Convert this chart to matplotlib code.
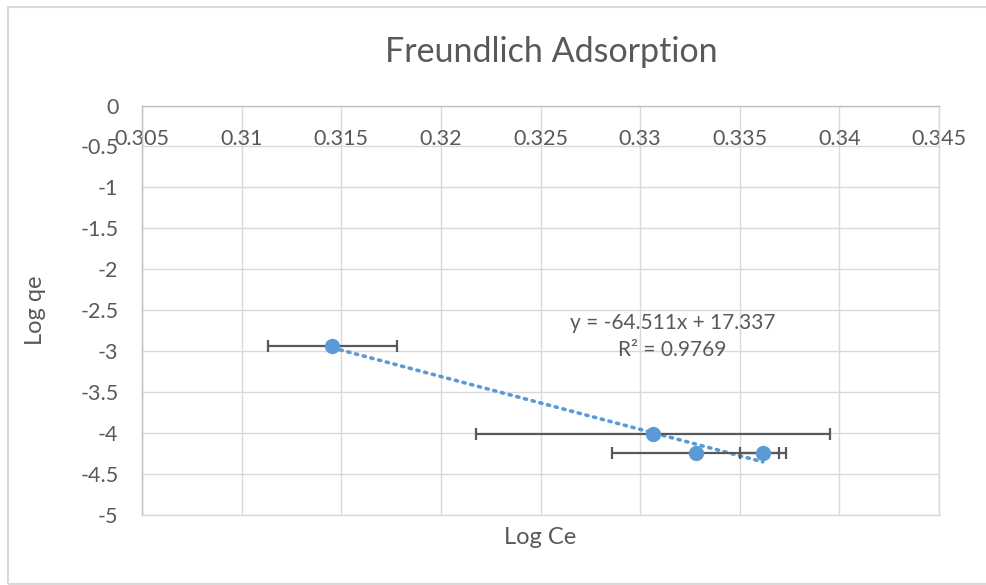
import numpy as np
import matplotlib.pyplot as plt
from matplotlib.patches import Rectangle

# Données
log_ce = [0.31456, 0.33064, 0.33278, 0.33616]
log_qe = [-2.937, -4.010, -4.246, -4.246]
err_ce = [0.00322, 0.0089, 0.00421, 0.00115]
x_ticks = [0.305, 0.31, 0.315, 0.32, 0.325, 0.33, 0.335, 0.34, 0.345]
x_labels = ['0.305', '0.31', '0.315', '0.32', '0.325', '0.33', '0.335', '0.34', '0.345']
y_ticks = [0, -0.5, -1, -1.5, -2, -2.5, -3, -3.5, -4, -4.5, -5]
y_labels = ['0', '-0.5', '-1', '-1.5', '-2', '-2.5', '-3', '-3.5', '-4', '-4.5', '-5']
eq_text = 'y = -64.511x + 17.337'
r2_text = 'R² = 0.9769'

plt.rcParams['font.family'] = ['Lato', 'DejaVu Sans']
txt = '#595959'
blue = '#5B9BD5'

W, H = 986, 585
fig = plt.figure(figsize=(W / 100, H / 100), dpi=100)
ax = fig.add_axes([142 / W, 1 - 515 / H, (939 - 142) / W, (515 - 105.5) / H])

# bordure du graphique
fig.patches.append(Rectangle((8 / W, 1 - 584 / H), (990 - 8) / W, (584 - 7) / H,
                             transform=fig.transFigure, fill=False,
                             edgecolor='#D9D9D9', lw=1.5))

# ligne de tendance
a, b = np.polyfit(log_ce, log_qe, 1)
xs = np.array([min(log_ce), max(log_ce)])
ax.plot(xs, a * xs + b, linestyle=(0, (0.6, 1.6)), color=blue, lw=2.6,
        dash_capstyle='round', zorder=3)

ax.errorbar(log_ce, log_qe, xerr=err_ce, fmt='none', ecolor='#595959',
            elinewidth=1.6, capsize=4, capthick=1.6, zorder=4)
ax.plot(log_ce, log_qe, 'o', color=blue, markersize=10, zorder=5)

ax.set_xlim(0.305, 0.345)
ax.set_ylim(-5, 0)
ax.set_xticks(x_ticks)
ax.set_xticklabels(x_labels)
ax.set_yticks(y_ticks)
ax.set_yticklabels(y_labels)
ax.grid(True, color='#D9D9D9', lw=1)
ax.set_axisbelow(True)
for s in ['bottom', 'right']:
    ax.spines[s].set_color('#D9D9D9')
for s in ['top', 'left']:
    ax.spines[s].set_color('#BFBFBF')
for s in ax.spines.values():
    s.set_linewidth(1)

ax.tick_params(axis='x', top=True, labeltop=True, bottom=False, labelbottom=False,
               length=0, pad=-31, labelsize=15.5, labelcolor=txt)
ax.tick_params(axis='y', length=0, pad=17, labelsize=15.5, labelcolor=txt)

ax.text(0.6657, 0.470, eq_text, transform=ax.transAxes, ha='center',
        va='center', fontsize=15, color=txt)
ax.text(0.6657, 0.402, r2_text, transform=ax.transAxes, ha='center',
        va='center', fontsize=15, color=txt)

fig.text(551 / W, 1 - 52 / H, 'Freundlich Adsorption', ha='center', va='center',
         fontsize=24.5, color=txt)
fig.text(540 / W, 1 - 538 / H, 'Log Ce', ha='center', va='center',
         fontsize=17, color=txt)
fig.text(35 / W, 1 - 310 / H, 'Log qe', ha='center', va='center', rotation=90,
         fontsize=17, color=txt)

fig.savefig('out.png', dpi=100)
